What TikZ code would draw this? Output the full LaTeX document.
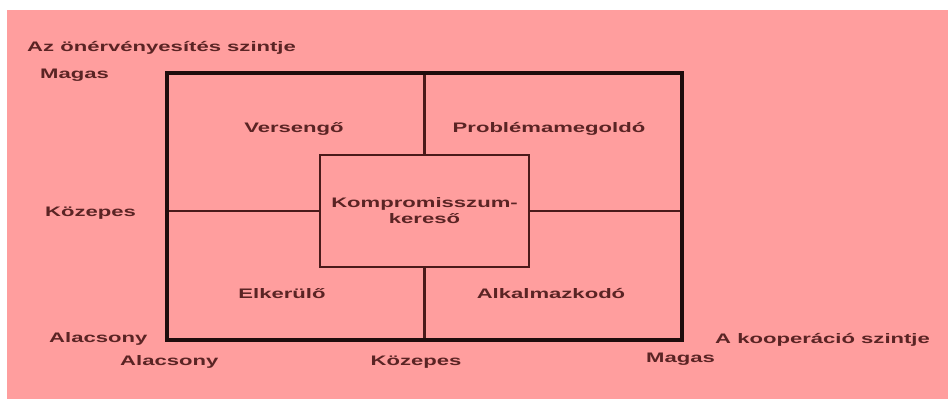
\documentclass[tikz,border=0pt]{standalone}
\usepackage{fontspec}
\newfontfamily\lbl{Liberation Sans}[FakeStretch=1.6]
\definecolor{bgpink}{HTML}{FF9E9E}
\definecolor{txt}{HTML}{5A2424}
\definecolor{frame}{HTML}{1E0C0C}
\definecolor{inner}{HTML}{4A1A1A}
\begin{document}
\begin{tikzpicture}[x=1pt,y=-1pt,
  lab/.style={text=txt,font=\lbl\bfseries\fontsize{13.8}{16}\selectfont,inner sep=0pt},
  outerline/.style={draw=frame,line width=3.5pt},
  innerline/.style={draw=inner,line width=2.4pt},
  centerbox/.style={draw=inner,line width=2.4pt,minimum width=209pt,minimum height=112pt,inner sep=0pt,align=center,
    text=txt,font=\lbl\bfseries\fontsize{13.8}{16}\selectfont}]
\useasboundingbox (0,0) rectangle (948,399);
\fill[white] (0,0) rectangle (948,399);
\fill[bgpink] (7,10) rectangle (948,399);
% outer frame
\coordinate (TL) at (167,73);
\coordinate (BR) at (682,340);
\coordinate (T) at (424.5,73);
\coordinate (B) at (424.5,340);
\coordinate (L) at (167,211);
\coordinate (R) at (682,211);
\node[centerbox] (ck) at (424.5,211) {Kompromisszum-\\kereső};
\draw[innerline] (T) -- (ck.north);
\draw[innerline] (ck.south) -- (B);
\draw[innerline] (L) -- (ck.west);
\draw[innerline] (ck.east) -- (R);
\draw[outerline] (TL) rectangle (BR);
% labels
\node[lab,anchor=base west] (title) at (27,51) {Az önérvényesítés szintje};
\node[lab,anchor=base west] (ymag) at (40,78) {Magas};
\node[lab,anchor=base west] (ykoz) at (45,216) {Közepes};
\node[lab,anchor=base west] (yala) at (49,342) {Alacsony};
\node[lab,anchor=base] (vers) at (294,132) {Versengő};
\node[lab,anchor=base] (prob) at (549,132) {Problémamegoldó};
\node[lab,anchor=base] (elk) at (282,298) {Elkerülő};
\node[lab,anchor=base] (alk) at (551,298) {Alkalmazkodó};
\node[lab,anchor=base west] (xala) at (120,365) {Alacsony};
\node[lab,anchor=base] (xkoz) at (416,365) {Közepes};
\node[lab,anchor=base west] (xmag) at (646,362) {Magas};
\node[lab,anchor=base west] (xtit) at (715,343) {A kooperáció szintje};
\end{tikzpicture}
\end{document}
